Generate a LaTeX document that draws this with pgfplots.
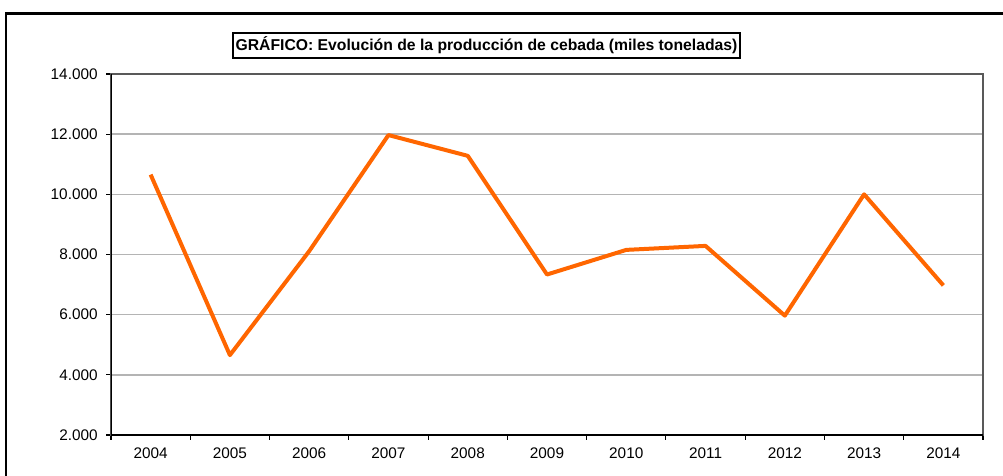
\documentclass[border=0pt]{standalone}
\usepackage{fontspec}
\setmainfont{Liberation Sans}
\usepackage{pgfplots}
\pgfplotsset{compat=1.18}
\definecolor{serie}{HTML}{FF6600}
\definecolor{rejilla}{HTML}{B4B4B4}

\begin{document}
\begin{tikzpicture}
\begin{axis}[
  scale only axis,
  width=654pt, height=270.75pt,
  xmin=-0.5, xmax=10.5,
  ymin=2000, ymax=14000,
  xtick={-0.5,0.5,...,10.5},
  x tick label as interval,
  xticklabels={2004,2005,2006,2007,2008,2009,2010,2011,2012,2013,2014},
  ytick={2000,4000,...,14000},
  scaled y ticks=false,
  xtick pos=bottom, ytick pos=left,
  tick align=outside,
  major tick length=3.5pt,
  tick style={black, line width=0.8pt},
  ymajorgrids=true,
  grid style={rejilla, line width=1pt},
  axis line style={black!65, line width=0.8pt},
  ticklabel style={font=\fontsize{11.5}{13}\selectfont},
  xticklabel style={yshift=-2.5pt},
  yticklabel style={xshift=-3pt, /pgf/number format/.cd, fixed, 1000 sep={.}, assume math mode=true},
]
\addplot[serie, line width=3pt, line join=round, mark=none] coordinates {
  (0,10655) (1,4655) (2,8110) (3,11970) (4,11280) (5,7335)
  (6,8153) (7,8286) (8,5967) (9,10000) (10,6973)};
\draw[black, line width=0.8pt] (rel axis cs:0,1) -- (rel axis cs:0,0) -- (rel axis cs:1,0);
\end{axis}
% marco exterior y titulo
\draw[black, line width=2pt] (-78.75pt,-40pt) -- (-78.75pt,316.3pt) -- (720pt,316.3pt);
\node[draw=black, line width=1.8pt, inner xsep=2pt, inner ysep=3pt, font=\fontsize{11.8}{14}\selectfont\bfseries]
  at (281.6pt,292.1pt) {GRÁFICO: Evolución de la producción de cebada (miles toneladas)};
\pgfresetboundingbox
\path (-83.25pt,-30pt) rectangle (669pt,326.25pt);
\end{tikzpicture}
\end{document}
